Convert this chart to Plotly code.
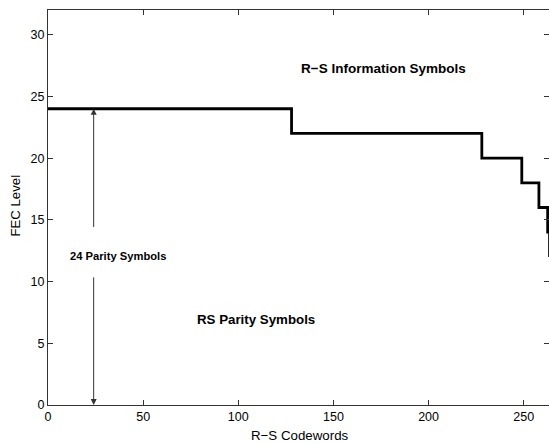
import plotly.graph_objects as go

# Step boundaries (R-S codewords) and FEC levels
codeword_edges = [0, 128, 228, 249, 258, 262.6, 263.6]
fec_levels = [24, 22, 20, 18, 16, 14, 12]

x_ticks = [0, 50, 100, 150, 200, 250]
y_ticks = [0, 5, 10, 15, 20, 25, 30]

font_family = "Liberation Sans, Arial, Helvetica, sans-serif"

L, R, T, B = 48, 0, 10, 39
W, H = 549, 444
pw, ph = W - L - R, H - T - B

fig = go.Figure()
fig.add_trace(go.Scatter(
    x=codeword_edges, y=fec_levels, mode="lines",
    line=dict(color="black", width=2.8, shape="hv"),
    showlegend=False, hoverinfo="skip", cliponaxis=True,
))

annotations = [
    dict(x=176.5, y=27.25, text="<b>R−S Information Symbols</b>", showarrow=False,
         font=dict(size=13.5, color="black", family=font_family)),
    dict(x=109.3, y=6.93, text="<b>RS Parity Symbols</b>", showarrow=False,
         font=dict(size=13.3, color="black", family=font_family)),
    dict(x=36.8, y=12.04, text="<b>24 Parity Symbols</b>", showarrow=False,
         font=dict(size=11.2, color="black", family=font_family)),
    # upward arrow
    dict(x=24, y=24, ax=24, ay=14.3, xref="x", yref="y", axref="x", ayref="y",
         text="", showarrow=True, arrowhead=2, arrowsize=1.2, arrowwidth=1,
         arrowcolor="#333333", standoff=0),
    # downward arrow
    dict(x=24, y=0, ax=24, ay=10.46, xref="x", yref="y", axref="x", ayref="y",
         text="", showarrow=True, arrowhead=2, arrowsize=1.2, arrowwidth=1,
         arrowcolor="#333333", standoff=0),
    # axis titles (placed in pixel terms, converted to paper coords)
    dict(x=(300 - L) / pw, y=-(435 - (H - B)) / ph, xref="paper", yref="paper",
         xanchor="center", yanchor="middle", text="R−S Codewords",
         showarrow=False, font=dict(size=13.3, color="black", family=font_family)),
    dict(x=(14.5 - L) / pw, y=((H - B) - 206) / ph, xref="paper", yref="paper",
         xanchor="center", yanchor="middle", text="FEC Level", textangle=-90,
         showarrow=False, font=dict(size=13.2, color="black", family=font_family)),
]

fig.update_layout(
    width=W, height=H,
    margin=dict(l=L, r=R, t=T, b=B, autoexpand=False),
    paper_bgcolor="white", plot_bgcolor="white",
    font=dict(family=font_family, size=12.5, color="black"),
    annotations=annotations,
    xaxis=dict(
        range=[0, 263.3], tickvals=x_ticks, ticks="inside", ticklen=5,
        tickcolor="#333333", showline=True, linecolor="#333333", linewidth=1,
        mirror="ticks", showgrid=False, zeroline=False, automargin=False,
        tickfont=dict(size=12.5),
    ),
    yaxis=dict(
        range=[0, 32], tickvals=y_ticks, ticks="inside", ticklen=5,
        tickcolor="#333333", showline=True, linecolor="#333333", linewidth=1,
        mirror="ticks", showgrid=False, zeroline=False, automargin=False,
        tickfont=dict(size=12.5),
    ),
)

fig.write_html(
    "out.html",
    config={"displayModeBar": False},
    post_script="document.body.style.margin='0';document.body.style.overflow='hidden';",
)
